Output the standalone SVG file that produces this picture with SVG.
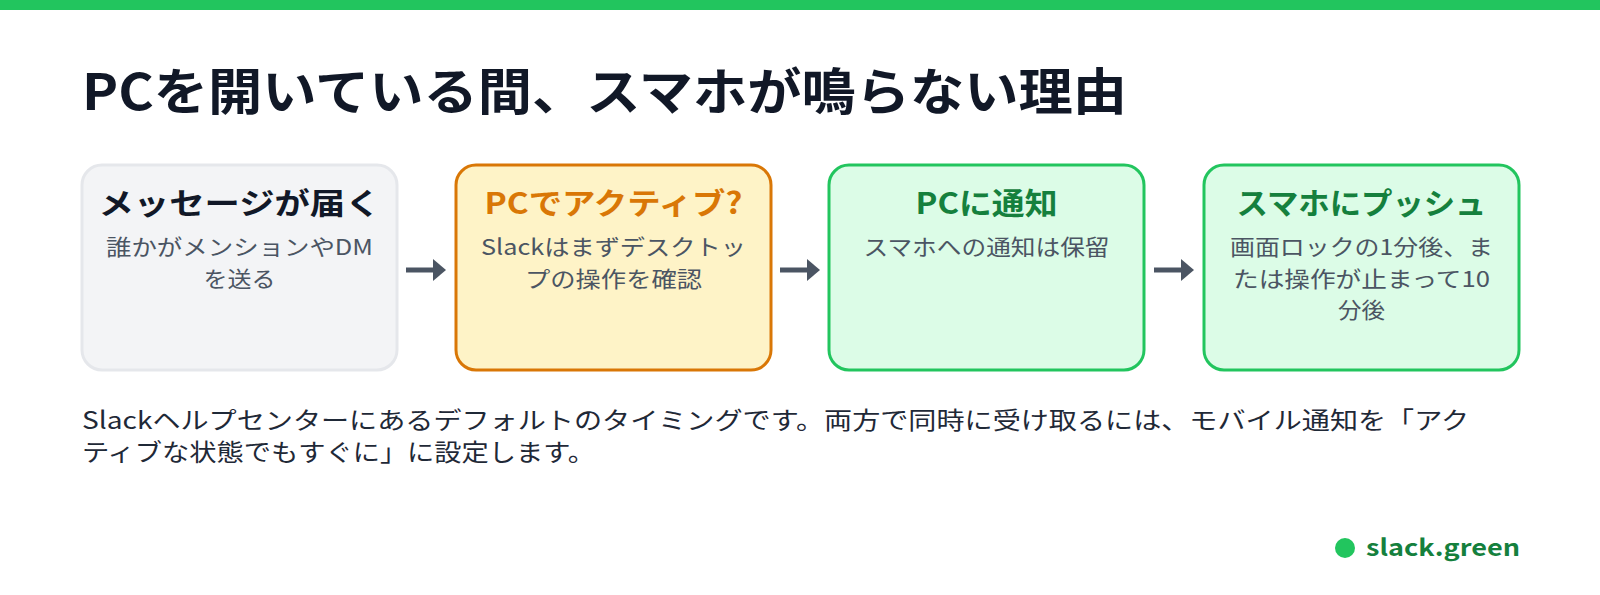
<svg xmlns="http://www.w3.org/2000/svg" width="1600" height="595" viewBox="0 0 1600 595">
<style>
text{font-family:"Noto Sans CJK JP","Noto Sans",sans-serif}
.t{font-size:30px;font-weight:700;text-anchor:middle}
.s{font-size:22px;fill:#4b5563;text-anchor:middle}
.b{stroke-width:3}
.f{font-size:24px;fill:#1f2937}
</style>
<defs><marker id="ah" markerWidth="13" markerHeight="22" refX="1" refY="11" orient="auto" markerUnits="userSpaceOnUse"><path d="M0,0 L13,11 L0,22 Z" fill="#4b5563"/></marker></defs>
<rect width="1600" height="595" fill="#fff"/>
<rect width="1600" height="10" fill="#22c55e"/>
<text x="82" y="110" font-size="50" font-weight="700" fill="#111827" textLength="1045" lengthAdjust="spacingAndGlyphs">PCを開いている間、スマホが鳴らない理由</text>
<g id="n1"><rect class="b" x="82" y="165" width="315" height="205" rx="20" fill="#f3f4f6" stroke="#e5e7eb"/>
<text class="t" x="239.5" y="214" fill="#111827" textLength="282" lengthAdjust="spacingAndGlyphs">メッセージが届く</text>
<text class="s" x="239.5" y="255" textLength="267" lengthAdjust="spacingAndGlyphs">誰かがメンションやDM</text><text class="s" x="239.5" y="287" textLength="72" lengthAdjust="spacingAndGlyphs">を送る</text></g>
<g id="n2"><rect class="b" x="456" y="165" width="315" height="205" rx="20" fill="#fef3c7" stroke="#d97706"/>
<text class="t" x="613.5" y="214" fill="#d97706" textLength="258" lengthAdjust="spacingAndGlyphs">PCでアクティブ?</text>
<text class="s" x="613.5" y="255" textLength="265" lengthAdjust="spacingAndGlyphs">Slackはまずデスクトッ</text><text class="s" x="613.5" y="287" textLength="177" lengthAdjust="spacingAndGlyphs">プの操作を確認</text></g>
<g id="n3"><rect class="b" x="829" y="165" width="315" height="205" rx="20" fill="#dcfce7" stroke="#22c55e"/>
<text class="t" x="986.5" y="214" fill="#15803d" textLength="142" lengthAdjust="spacingAndGlyphs">PCに通知</text>
<text class="s" x="986.5" y="255" textLength="246" lengthAdjust="spacingAndGlyphs">スマホへの通知は保留</text></g>
<g id="n4"><rect class="b" x="1204" y="165" width="315" height="205" rx="20" fill="#dcfce7" stroke="#22c55e"/>
<text class="t" x="1361.5" y="214" fill="#15803d" textLength="250" lengthAdjust="spacingAndGlyphs">スマホにプッシュ</text>
<text class="s" x="1361.5" y="255" textLength="263" lengthAdjust="spacingAndGlyphs">画面ロックの1分後、ま</text><text class="s" x="1361.5" y="287" textLength="257" lengthAdjust="spacingAndGlyphs">たは操作が止まって10</text><text class="s" x="1361.5" y="318" textLength="47" lengthAdjust="spacingAndGlyphs">分後</text></g>
<g id="connectors" stroke="#4b5563" stroke-width="5">
<line x1="406" y1="270" x2="434" y2="270" marker-end="url(#ah)"/>
<line x1="780" y1="270" x2="808" y2="270" marker-end="url(#ah)"/>
<line x1="1154" y1="270" x2="1182" y2="270" marker-end="url(#ah)"/>
</g>
<text class="f" x="82" y="429" textLength="1387" lengthAdjust="spacingAndGlyphs">Slackヘルプセンターにあるデフォルトのタイミングです。両方で同時に受け取るには、モバイル通知を「アク</text>
<text class="f" x="82" y="461" textLength="513" lengthAdjust="spacingAndGlyphs">ティブな状態でもすぐに」に設定します。</text>
<circle cx="1345" cy="548" r="10" fill="#22c55e"/>
<text x="1366" y="556" font-size="23" font-weight="700" fill="#15803d" textLength="154" lengthAdjust="spacingAndGlyphs">slack.green</text>
</svg>
